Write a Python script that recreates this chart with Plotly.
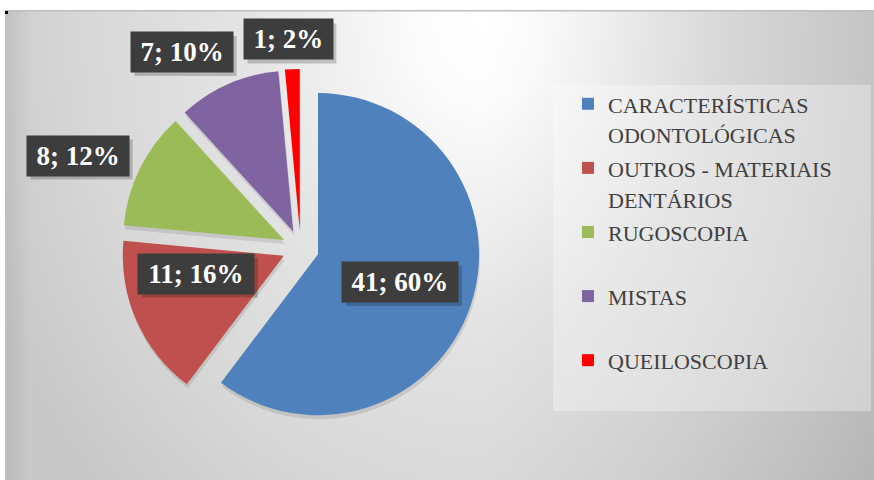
import base64
import math
import plotly.graph_objects as go

# ---- data ----
categories = ["CARACTERÍSTICAS<br>ODONTOLÓGICAS", "OUTROS - MATERIAIS<br>DENTÁRIOS",
              "RUGOSCOPIA", "MISTAS", "QUEILOSCOPIA"]
values = [41, 11, 8, 7, 1]
colors = ["#4F81BD", "#C0504D", "#9BBB59", "#8064A2", "#FF0000"]

# ---- helpers ----
W, H = 874, 480


def percents_100(vals):
    """Largest-remainder rounding so that the labels total 100% (as the spreadsheet does)."""
    raw = [100 * v / sum(vals) for v in vals]
    fl = [math.floor(r) for r in raw]
    rest = 100 - sum(fl)
    order = sorted(range(len(vals)), key=lambda i: raw[i] - fl[i], reverse=True)
    for i in order[:rest]:
        fl[i] += 1
    return fl


pcts = percents_100(values)
label_texts = [f"{v}; {p}%" for v, p in zip(values, pcts)]
label_pos = [(400, 282), (196, 273.5), (77.5, 155.5), (181.5, 52), (288, 39.5)]  # px centres of label boxes


def px_x(x):
    return x / W


def px_y(y):
    return 1 - y / H


CW = {';': .333, ' ': .25, '%': 1.0}


def text_w(s, size):
    return sum(CW.get(c, .5) for c in s) * size


# legend labels: pad single-line entries so that all entries share the same height
legend_labels = [c if "<br>" in c else c + "<br> " for c in categories]
legend_text = ["<span style='font-size:22px'>" + l.replace("<br>", "</span><br><span style='font-size:22px'>") + "</span>"
               for l in legend_labels]

# background: radial gradient as an svg image
svg = """<svg xmlns='http://www.w3.org/2000/svg' width='869' height='470' viewBox='0 0 869 470' preserveAspectRatio='none'>
<defs>
<radialGradient id='g' gradientUnits='userSpaceOnUse' cx='0' cy='0' r='1' gradientTransform='translate(480 10) scale(540 660)'>
<stop offset='0' stop-color='#ffffff'/>
<stop offset='0.12' stop-color='#fcfcfc'/>
<stop offset='0.45' stop-color='#e4e4e4'/>
<stop offset='0.75' stop-color='#d7d7d7'/>
<stop offset='1' stop-color='#c8c8c8'/>
</radialGradient>
<linearGradient id='r' x1='0' y1='0' x2='1' y2='0'>
<stop offset='0.55' stop-color='#000' stop-opacity='0'/>
<stop offset='1' stop-color='#000' stop-opacity='0.09'/>
</linearGradient>
<linearGradient id='l' x1='0' y1='0' x2='1' y2='0'>
<stop offset='0' stop-color='#000' stop-opacity='0.07'/>
<stop offset='0.03' stop-color='#000' stop-opacity='0'/>
</linearGradient>
</defs>
<rect x='0' y='0' width='869' height='470' fill='url(#g)'/>
<rect x='0' y='0' width='869' height='470' fill='url(#r)'/>
<rect x='0' y='0' width='869' height='470' fill='url(#l)'/>
<rect x='0' y='0' width='869' height='1.5' fill='#bdbdbd'/>
<rect x='0' y='0' width='1.5' height='470' fill='#c4c4c4'/>
</svg>"""
svg_uri = "data:image/svg+xml;base64," + base64.b64encode(svg.encode()).decode()

PIE_X = (121.2, 480.0)
PIE_Y = (68.9, 427.7)
PULL = 0.114

fig = go.Figure()
# soft shadow of the pie
fig.add_trace(go.Pie(
    labels=legend_text, values=values,
    marker=dict(colors=["rgba(0,0,0,0.10)"] * len(values), line=dict(width=0)),
    sort=False, direction="clockwise", rotation=0, pull=PULL, textinfo="none",
    domain=dict(x=[px_x(PIE_X[0] + 1), px_x(PIE_X[1] + 1)], y=[px_y(PIE_Y[1] + 4), px_y(PIE_Y[0] + 4)]),
    showlegend=False, hoverinfo="skip",
))
fig.add_trace(go.Pie(
    labels=legend_text,
    values=values,
    marker=dict(colors=colors, line=dict(width=0)),
    sort=False,
    direction="clockwise",
    rotation=0,
    pull=PULL,
    textinfo="none",
    domain=dict(x=[px_x(PIE_X[0]), px_x(PIE_X[1])], y=[px_y(PIE_Y[1]), px_y(PIE_Y[0])]),
    hoverinfo="value+percent",
))

annotations = []
shapes = []
LFS = 27
PAD = 4
BOX_H = 40
for txt, (cx, cy) in zip(label_texts, label_pos):
    bw = text_w(txt, LFS) + 19
    # box shadow
    shapes.append(dict(type="rect", xref="paper", yref="paper",
                       x0=px_x(cx - bw / 2 + 4), x1=px_x(cx + bw / 2 + 4),
                       y0=px_y(cy + BOX_H / 2 + 4), y1=px_y(cy - BOX_H / 2 + 4),
                       fillcolor="rgba(0,0,0,0.20)", line=dict(width=0), layer="above"))
    annotations.append(dict(
        x=px_x(cx), y=px_y(cy), xref="paper", yref="paper", showarrow=False,
        text=f"<b>{txt}</b>", font=dict(family="Liberation Serif", size=LFS, color="#ffffff"),
        bgcolor="#3d3d3d", borderpad=PAD, width=bw - 2 * PAD, height=BOX_H - 2 * PAD,
        xanchor="center", yanchor="middle"))

shapes += [
    dict(type="rect", xref="paper", yref="paper",
         x0=px_x(553), x1=px_x(871), y0=px_y(411), y1=px_y(85),
         fillcolor="rgba(255,255,255,0.32)", line=dict(width=0), layer="above"),
    dict(type="rect", xref="paper", yref="paper",
         x0=px_x(5), x1=px_x(8), y0=px_y(14), y1=px_y(11),
         fillcolor="#000000", line=dict(width=0), layer="above"),
]

fig.update_layout(
    width=W, height=H,
    margin=dict(l=0, r=0, t=0, b=0),
    paper_bgcolor="#ffffff",
    plot_bgcolor="rgba(0,0,0,0)",
    images=[dict(source=svg_uri, xref="paper", yref="paper",
                 x=px_x(5), y=px_y(10), sizex=869 / W, sizey=470 / H,
                 xanchor="left", yanchor="top", sizing="stretch", layer="below")],
    shapes=shapes,
    legend=dict(
        x=px_x(568), y=px_y(82), xanchor="left", yanchor="top",
        font=dict(family="Liberation Serif", size=23.5, color="#404040"),
        bgcolor="rgba(0,0,0,0)", borderwidth=0, valign="top",
        traceorder="normal",
    ),
    annotations=annotations,
    showlegend=True,
)

fig.write_html("out.html", config={"displayModeBar": False},
               post_script="document.body.style.margin='0';")
